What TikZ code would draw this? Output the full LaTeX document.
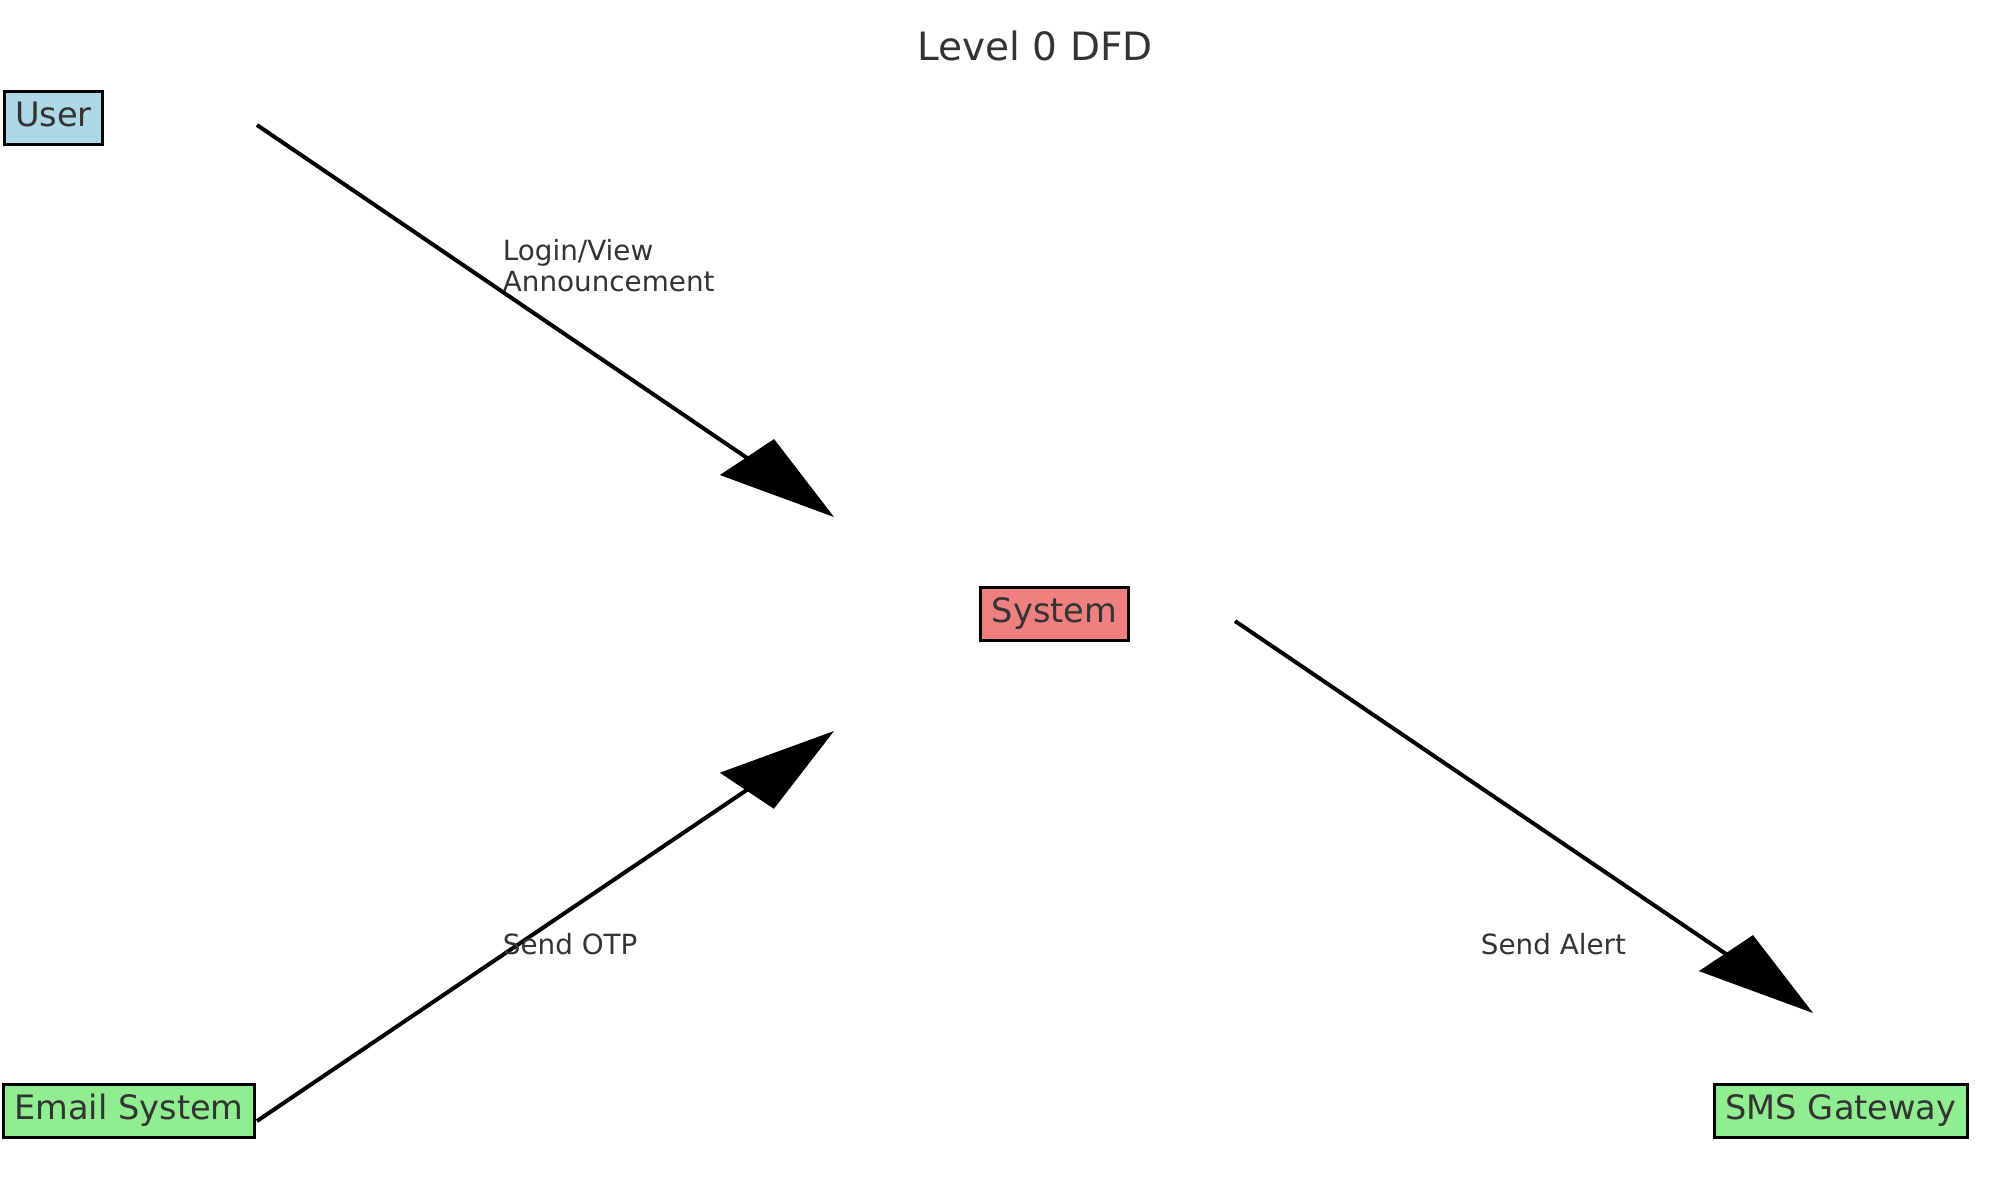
\documentclass[tikz,border=0pt]{standalone}
\usepackage{fontspec}
\setmainfont{DejaVu Sans}
\usepackage{xcolor}
\usetikzlibrary{positioning,arrows.meta}

\definecolor{txtgray}{RGB}{51,51,51}
\definecolor{extblue}{RGB}{173,216,230}
\definecolor{extgreen}{RGB}{144,238,144}
\definecolor{proccoral}{RGB}{240,128,128}

% slanted filled head
\pgfdeclarearrow{
  name = SkewHead,
  setup code = {
    \pgfarrowssettipend{0pt}
    \pgfarrowssetlineend{-20pt}
    \pgfarrowssetbackend{-59pt}
    \pgfarrowssetvisualbackend{-47pt}
    \pgfarrowshullpoint{0pt}{0pt}
    \pgfarrowshullpoint{-59pt}{-14.7pt}
    \pgfarrowshullpoint{-46.7pt}{15.4pt}
  },
  drawing code = {
    \pgfpathmoveto{\pgfpointorigin}
    \pgfpathlineto{\pgfpoint{-59pt}{-14.7pt}}
    \pgfpathlineto{\pgfpoint{-46.7pt}{15.4pt}}
    \pgfpathclose
    \pgfusepathqfill
  }
}

\begin{document}
\begin{tikzpicture}[x=0.5pt, y=-0.5pt,
  ent/.style={draw=black, line width=1.5pt, text=txtgray, font=\fontsize{16.8}{19}\selectfont,
    inner xsep=5.5pt, inner ysep=0pt, minimum height=26.5pt, text height=12.8pt, text depth=4pt},
  lbl/.style={text=txtgray, font=\fontsize{13.9}{15.5}\selectfont, inner sep=0pt, align=left, anchor=base west},
  ttl/.style={text=txtgray, font=\fontsize{19.5}{22}\selectfont, inner sep=0pt, anchor=base},
  arr/.style={-SkewHead, line width=2pt, black}]
\useasboundingbox (0,0) rectangle (2000,1200);
\node[ttl] (title) at (1035,60) {Level 0 DFD};
% entities and process
\node[ent, fill=extblue] (user) at (53.5,117.5) {User};
\node[ent, fill=proccoral] (sys) at (1054.5,613.5) {System};
\node[ent, fill=extgreen] (email) at (129,1111) {Email System};
\node[ent, fill=extgreen] (sms) at (1841,1111) {SMS Gateway};
% flow ends
\coordinate (u0) at (257,125);   \coordinate (u1) at (834,517);
\coordinate (e0) at (257,1121);  \coordinate (e1) at (834,731);
\coordinate (s0) at (1235,621);  \coordinate (s1) at (1813,1013);
\draw[arr] (u0) -- (u1);
\draw[arr, -{SkewHead[swap]}] (e0) -- (e1);
\draw[arr] (s0) -- (s1);
\node[lbl] (lu) at (502.5,291) {Login/View\\Announcement};
\node[lbl] (le) at (502.5,954) {Send OTP};
\node[lbl] (ls) at (1480.5,954) {Send Alert};
\end{tikzpicture}
\end{document}
